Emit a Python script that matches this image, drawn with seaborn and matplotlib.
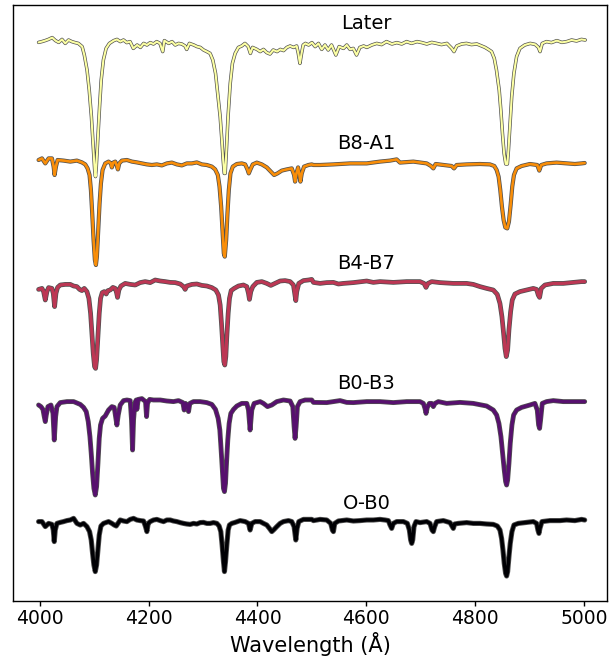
import numpy as np
import pandas as pd
import matplotlib
matplotlib.use("Agg")
import matplotlib.pyplot as plt
import seaborn as sns

# ---------------- data ----------------
labels = ["O-B0", "B0-B3", "B4-B7", "B8-A1", "Later"]
offsets = [0.0, 0.6, 1.2, 1.8, 2.4]

ob0_wl = [3998.0, 4004.2, 4010.3, 4016.4, 4022.5, 4025.0, 4026.8, 4028.6, 4031.7, 4037.8,
          4043.9, 4050.0, 4056.2, 4062.3, 4068.4, 4074.5, 4080.6, 4086.8, 4091.6, 4094.7,
          4097.2, 4099.6, 4102.1, 4104.5, 4107.0, 4109.4, 4112.5, 4117.3, 4126.5, 4132.6,
          4136.9, 4140.6, 4143.7, 4147.9, 4154.1, 4160.2, 4166.3, 4172.4, 4178.5, 4184.6,
          4190.8, 4194.4, 4196.9, 4199.3, 4203.0, 4209.1, 4215.2, 4221.4, 4227.5, 4233.6,
          4239.7, 4245.8, 4251.9, 4258.1, 4264.2, 4270.3, 4276.4, 4282.5, 4288.7, 4294.8,
          4300.9, 4307.0, 4313.1, 4319.2, 4325.4, 4329.6, 4332.7, 4335.1, 4337.6, 4339.4,
          4341.3, 4343.7, 4346.2, 4348.6, 4352.9, 4359.0, 4368.2, 4377.4, 4383.5, 4386.5,
          4389.6, 4395.7, 4404.9, 4411.0, 4417.1, 4422.0, 4426.3, 4430.6, 4435.5, 4441.6,
          4447.7, 4456.9, 4463.0, 4467.3, 4470.4, 4472.8, 4475.9, 4484.4, 4493.6, 4499.7,
          4502.8, 4515.0, 4527.2, 4534.6, 4537.6, 4539.5, 4541.9, 4548.7, 4564.0, 4576.2,
          4588.4, 4600.7, 4612.9, 4625.1, 4634.3, 4640.4, 4643.5, 4646.5, 4649.6, 4655.7,
          4668.0, 4675.3, 4679.0, 4681.4, 4683.3, 4685.1, 4687.5, 4691.2, 4698.5, 4710.8,
          4716.9, 4720.6, 4723.0, 4725.5, 4729.1, 4741.4, 4753.6, 4757.3, 4759.7, 4762.2,
          4768.9, 4784.2, 4796.4, 4808.7, 4820.9, 4833.1, 4840.5, 4845.4, 4848.4, 4850.9,
          4853.3, 4855.8, 4857.6, 4859.5, 4861.9, 4864.3, 4867.4, 4871.1, 4879.0, 4894.3,
          4906.6, 4912.7, 4915.1, 4917.0, 4918.8, 4922.5, 4937.1, 4955.5, 4967.7, 4983.0,
          4995.3, 5001.0]
ob0_flux = [0.992, 0.992, 0.967, 0.983, 0.978, 0.950, 0.892, 0.950, 0.983, 0.988,
            0.992, 0.997, 1.000, 1.008, 0.983, 0.975, 0.983, 0.967, 0.942, 0.900,
            0.833, 0.775, 0.742, 0.775, 0.850, 0.925, 0.970, 0.983, 0.992, 0.983,
            0.975, 0.970, 0.983, 1.000, 0.995, 0.992, 1.003, 1.008, 1.000, 0.997,
            0.995, 0.967, 0.942, 0.983, 0.992, 1.000, 1.003, 0.997, 0.992, 1.000,
            1.000, 0.995, 0.992, 0.987, 0.983, 0.980, 0.978, 0.983, 0.980, 0.987,
            0.988, 0.983, 0.983, 0.987, 0.983, 0.970, 0.942, 0.875, 0.792, 0.742,
            0.792, 0.875, 0.950, 0.975, 0.983, 0.988, 0.997, 0.992, 0.983, 0.950,
            0.983, 0.992, 0.992, 0.983, 0.975, 0.958, 0.942, 0.953, 0.967, 0.983,
            0.992, 0.997, 0.992, 0.967, 0.900, 0.958, 0.992, 1.003, 1.003, 1.003,
            0.997, 1.003, 1.000, 0.983, 0.950, 0.942, 0.983, 0.995, 1.000, 0.995,
            0.997, 1.000, 1.000, 1.003, 1.000, 0.997, 0.975, 0.958, 0.983, 0.992,
            0.992, 0.983, 0.950, 0.900, 0.883, 0.900, 0.967, 0.992, 0.987, 0.992,
            0.983, 0.950, 0.942, 0.967, 0.992, 0.997, 0.987, 0.970, 0.958, 0.980,
            0.983, 0.987, 0.983, 0.983, 0.980, 0.978, 0.970, 0.950, 0.908, 0.850,
            0.783, 0.733, 0.720, 0.742, 0.817, 0.883, 0.942, 0.975, 0.983, 0.988,
            0.992, 0.983, 0.950, 0.933, 0.958, 0.992, 0.997, 0.997, 1.000, 0.997,
            1.003, 1.000]

b03_wl = [3998.0, 4002.3, 4006.0, 4008.4, 4010.3, 4012.1, 4015.2, 4020.7, 4024.4, 4026.8,
          4029.3, 4031.7, 4037.8, 4050.0, 4062.3, 4074.5, 4080.6, 4085.5, 4089.2, 4092.3,
          4094.7, 4097.2, 4099.6, 4102.1, 4104.5, 4107.0, 4109.4, 4111.8, 4115.5, 4120.4,
          4126.5, 4132.6, 4136.9, 4139.4, 4141.8, 4144.3, 4147.9, 4154.1, 4160.2, 4166.3,
          4168.7, 4170.6, 4172.4, 4174.9, 4177.3, 4178.5, 4181.0, 4187.7, 4194.4, 4196.3,
          4198.1, 4201.8, 4209.1, 4221.4, 4233.6, 4245.8, 4255.0, 4263.0, 4265.4, 4267.9,
          4271.5, 4273.4, 4275.8, 4282.5, 4294.8, 4307.0, 4316.2, 4322.9, 4327.8, 4330.9,
          4333.3, 4335.8, 4337.6, 4339.4, 4341.3, 4343.1, 4345.5, 4348.0, 4351.1, 4356.0,
          4362.1, 4371.2, 4380.4, 4383.5, 4386.5, 4389.6, 4393.9, 4404.9, 4411.0, 4418.4,
          4426.3, 4435.5, 4447.7, 4460.0, 4464.9, 4467.3, 4469.1, 4471.0, 4473.4, 4478.3,
          4487.5, 4499.7, 4502.8, 4527.2, 4551.7, 4563.9, 4576.2, 4600.7, 4625.1, 4649.6,
          4674.1, 4698.5, 4704.7, 4707.7, 4709.6, 4712.0, 4715.7, 4720.0, 4723.0, 4726.1,
          4732.2, 4747.5, 4772.0, 4796.4, 4820.9, 4833.1, 4839.3, 4843.5, 4847.2, 4850.3,
          4853.3, 4855.8, 4857.6, 4859.5, 4861.9, 4864.3, 4867.4, 4870.5, 4876.0, 4885.1,
          4900.4, 4909.6, 4913.9, 4916.4, 4918.2, 4920.0, 4923.1, 4931.0, 4943.3, 4961.6,
          4980.0, 4995.3, 5001.0]
b03_flux = [0.975, 0.967, 0.953, 0.917, 0.892, 0.925, 0.967, 0.975, 0.933, 0.800,
            0.917, 0.967, 0.987, 0.992, 0.992, 0.978, 0.963, 0.942, 0.892, 0.817,
            0.733, 0.633, 0.558, 0.525, 0.567, 0.683, 0.808, 0.875, 0.908, 0.920,
            0.950, 0.967, 0.963, 0.917, 0.875, 0.925, 0.975, 0.997, 1.000, 0.997,
            0.900, 0.750, 0.900, 0.983, 1.000, 0.953, 1.003, 1.007, 0.992, 0.917,
            0.983, 1.003, 1.000, 1.000, 0.995, 0.992, 0.997, 0.987, 0.950, 0.983,
            0.970, 0.942, 0.983, 0.992, 0.992, 0.987, 0.978, 0.953, 0.908, 0.850,
            0.750, 0.633, 0.558, 0.542, 0.583, 0.683, 0.800, 0.883, 0.933, 0.953,
            0.970, 0.983, 0.983, 0.950, 0.850, 0.950, 0.983, 0.992, 0.983, 0.967,
            0.975, 0.992, 1.000, 0.995, 0.967, 0.867, 0.808, 0.867, 0.967, 0.992,
            1.000, 1.000, 0.988, 0.987, 0.997, 0.988, 0.987, 0.992, 0.992, 0.987,
            0.992, 0.992, 0.983, 0.958, 0.933, 0.963, 0.983, 0.983, 0.967, 0.983,
            0.992, 0.983, 0.988, 0.983, 0.970, 0.950, 0.925, 0.883, 0.817, 0.733,
            0.650, 0.592, 0.575, 0.600, 0.683, 0.783, 0.875, 0.925, 0.950, 0.963,
            0.975, 0.983, 0.950, 0.875, 0.858, 0.900, 0.983, 0.992, 0.997, 0.992,
            0.992, 0.992, 0.992]

b47_wl = [3998.0, 4004.2, 4007.2, 4010.3, 4013.3, 4016.4, 4022.5, 4025.0, 4027.4, 4029.9,
          4032.9, 4037.8, 4047.0, 4056.2, 4062.3, 4068.4, 4073.3, 4077.6, 4081.9, 4086.8,
          4090.4, 4093.5, 4096.0, 4098.4, 4100.8, 4102.7, 4104.5, 4107.0, 4109.4, 4111.8,
          4114.9, 4118.6, 4122.2, 4125.3, 4129.6, 4134.5, 4138.8, 4141.2, 4143.0, 4145.5,
          4149.2, 4157.1, 4166.3, 4175.5, 4184.6, 4193.8, 4203.0, 4212.2, 4221.4, 4230.5,
          4239.7, 4248.9, 4258.1, 4264.2, 4267.2, 4270.3, 4279.5, 4288.7, 4297.8, 4307.0,
          4316.2, 4323.5, 4328.4, 4331.5, 4333.9, 4336.4, 4338.2, 4340.0, 4341.9, 4343.7,
          4346.2, 4348.6, 4351.7, 4357.2, 4365.1, 4374.3, 4380.4, 4383.5, 4385.3, 4387.8,
          4391.4, 4398.8, 4408.0, 4417.1, 4424.5, 4432.4, 4441.6, 4450.8, 4460.0, 4466.1,
          4468.5, 4470.4, 4472.2, 4475.9, 4484.4, 4493.6, 4499.7, 4502.8, 4515.0, 4527.2,
          4539.5, 4548.7, 4557.8, 4576.2, 4600.7, 4612.9, 4625.1, 4649.6, 4674.1, 4698.5,
          4705.9, 4709.6, 4713.2, 4720.0, 4735.3, 4759.7, 4784.2, 4796.4, 4808.7, 4820.9,
          4833.1, 4840.5, 4845.4, 4849.0, 4852.1, 4854.6, 4857.0, 4859.5, 4861.9, 4865.0,
          4868.0, 4872.9, 4882.1, 4894.4, 4906.6, 4912.7, 4915.7, 4918.2, 4921.2, 4928.0,
          4943.3, 4961.6, 4980.0, 4995.3, 5001.0]
b47_flux = [0.953, 0.958, 0.942, 0.900, 0.942, 0.962, 0.958, 0.933, 0.867, 0.933,
            0.963, 0.975, 0.978, 0.978, 0.970, 0.967, 0.953, 0.947, 0.958, 0.942,
            0.908, 0.833, 0.733, 0.633, 0.567, 0.558, 0.600, 0.717, 0.833, 0.908,
            0.937, 0.942, 0.930, 0.947, 0.950, 0.963, 0.958, 0.937, 0.913, 0.950,
            0.970, 0.983, 0.978, 0.975, 0.987, 0.992, 0.987, 1.000, 0.995, 0.992,
            0.988, 0.987, 0.980, 0.967, 0.953, 0.970, 0.978, 0.980, 0.973, 0.970,
            0.962, 0.950, 0.925, 0.875, 0.783, 0.667, 0.592, 0.575, 0.617, 0.717,
            0.833, 0.908, 0.947, 0.958, 0.970, 0.975, 0.967, 0.933, 0.903, 0.942,
            0.967, 0.988, 0.992, 0.983, 0.973, 0.983, 0.995, 0.997, 0.992, 0.975,
            0.933, 0.897, 0.942, 0.983, 0.997, 1.000, 1.003, 0.988, 0.983, 0.987,
            0.988, 0.980, 0.983, 0.987, 0.995, 0.988, 0.992, 0.988, 0.992, 0.992,
            0.983, 0.963, 0.983, 0.992, 0.987, 0.983, 0.983, 0.978, 0.967, 0.958,
            0.950, 0.928, 0.883, 0.817, 0.733, 0.658, 0.617, 0.650, 0.750, 0.842,
            0.900, 0.930, 0.942, 0.950, 0.958, 0.953, 0.925, 0.913, 0.958, 0.975,
            0.983, 0.983, 0.988, 0.992, 0.992]

b8a1_wl = [3998.0, 4004.2, 4010.3, 4016.4, 4022.5, 4025.6, 4027.4, 4029.9, 4032.9, 4043.9,
           4056.2, 4068.4, 4077.6, 4083.7, 4088.0, 4091.6, 4094.1, 4096.5, 4099.0, 4101.4,
           4103.3, 4105.1, 4107.6, 4110.0, 4112.5, 4115.5, 4120.4, 4126.5, 4130.8, 4132.6,
           4135.1, 4138.8, 4141.8, 4143.7, 4146.1, 4151.0, 4160.2, 4169.4, 4178.5, 4187.7,
           4196.9, 4206.1, 4215.2, 4224.4, 4233.6, 4242.8, 4251.9, 4261.1, 4270.3, 4279.5,
           4288.7, 4297.8, 4307.0, 4316.2, 4322.3, 4327.2, 4330.3, 4333.3, 4335.8, 4338.2,
           4340.0, 4342.5, 4344.9, 4347.4, 4350.4, 4354.7, 4362.1, 4371.2, 4377.4, 4381.6,
           4384.1, 4387.1, 4391.4, 4398.8, 4408.0, 4417.1, 4424.5, 4430.6, 4436.7, 4444.7,
           4453.8, 4463.0, 4467.3, 4469.1, 4471.6, 4474.6, 4477.1, 4478.9, 4481.4, 4485.6,
           4493.6, 4499.7, 4502.8, 4515.0, 4539.5, 4570.1, 4600.7, 4625.1, 4643.5, 4655.7,
           4661.8, 4686.3, 4710.8, 4718.7, 4723.0, 4727.3, 4741.4, 4756.7, 4761.0, 4765.8,
           4784.2, 4808.7, 4827.0, 4835.0, 4839.3, 4842.9, 4846.0, 4849.0, 4852.1, 4855.2,
           4858.8, 4861.9, 4865.0, 4868.0, 4871.1, 4876.0, 4885.1, 4900.4, 4913.9, 4917.6,
           4921.2, 4931.0, 4949.4, 4967.7, 4983.0, 4995.3, 5001.0]
b8a1_flux = [1.000, 1.008, 0.983, 1.008, 1.008, 0.967, 0.925, 0.967, 1.000, 0.997,
             0.992, 0.997, 0.988, 0.978, 0.958, 0.925, 0.850, 0.733, 0.600, 0.500,
             0.475, 0.517, 0.650, 0.783, 0.883, 0.950, 0.983, 0.992, 0.983, 0.963,
             0.987, 0.992, 0.970, 0.953, 0.983, 0.997, 1.000, 0.992, 0.988, 0.983,
             0.978, 0.975, 0.978, 0.973, 0.983, 0.987, 0.978, 0.973, 0.983, 0.983,
             0.988, 0.978, 0.975, 0.967, 0.953, 0.925, 0.867, 0.767, 0.650, 0.533,
             0.517, 0.600, 0.733, 0.850, 0.933, 0.967, 0.980, 0.983, 0.978, 0.953,
             0.933, 0.953, 0.978, 0.987, 0.978, 0.963, 0.942, 0.925, 0.933, 0.947,
             0.953, 0.958, 0.925, 0.892, 0.933, 0.963, 0.925, 0.892, 0.933, 0.967,
             0.975, 0.978, 0.975, 0.975, 0.978, 0.983, 0.983, 0.992, 0.997, 1.003,
             0.987, 0.992, 0.983, 0.970, 0.958, 0.980, 0.975, 0.970, 0.958, 0.975,
             0.978, 0.980, 0.978, 0.970, 0.950, 0.917, 0.850, 0.767, 0.700, 0.663,
             0.658, 0.692, 0.775, 0.867, 0.925, 0.958, 0.970, 0.980, 0.975, 0.947,
             0.975, 0.983, 0.987, 0.983, 0.980, 0.983, 0.985]

later_wl = [3998, 4004, 4010, 4016, 4023, 4029, 4035, 4041, 4047, 4053,
            4059, 4065, 4071, 4078, 4082, 4087, 4091, 4095, 4098, 4101,
            4102.5, 4104, 4107, 4110, 4113, 4117, 4122, 4128, 4136, 4142,
            4148, 4154, 4160, 4166, 4172, 4179, 4185, 4191, 4197, 4203,
            4209, 4215, 4221, 4226, 4229, 4237, 4243, 4249, 4255, 4261,
            4267, 4270, 4275, 4283, 4289, 4295, 4301, 4307, 4313, 4318,
            4323, 4327, 4331.5, 4334.6, 4337, 4339, 4340.7, 4343, 4346, 4350,
            4354, 4359, 4365, 4371, 4377, 4383, 4387, 4391, 4399, 4405,
            4411, 4417, 4423, 4429, 4436, 4442, 4448, 4454, 4460, 4466,
            4472, 4475, 4478, 4481, 4484, 4488, 4494, 4500, 4506, 4512,
            4518, 4524, 4530, 4536, 4544, 4550, 4558, 4564, 4570, 4576,
            4582, 4588, 4595, 4601, 4610, 4619, 4628, 4637, 4647, 4656,
            4665, 4674, 4683, 4693, 4702, 4711, 4720, 4729, 4738, 4748,
            4757, 4761, 4766, 4775, 4784, 4793, 4803, 4812, 4818, 4824,
            4830, 4835, 4839, 4844, 4847, 4850, 4853, 4856, 4859, 4861,
            4864, 4867, 4871, 4876, 4882, 4891, 4901, 4910, 4916, 4919,
            4923, 4931, 4940, 4950, 4959, 4968, 4977, 4986, 4995, 5002]
later_flux = [0.988, 0.992, 0.997, 1.003, 1.012, 0.997, 0.988, 1.003, 0.983, 1.000,
              0.992, 0.987, 0.983, 0.967, 0.925, 0.850, 0.750, 0.617, 0.483, 0.350,
              0.317, 0.367, 0.517, 0.667, 0.800, 0.900, 0.958, 0.983, 0.997, 1.003,
              0.992, 1.000, 0.987, 0.992, 0.958, 0.975, 0.963, 0.983, 0.975, 0.987,
              0.980, 0.992, 0.983, 0.942, 0.997, 0.983, 0.992, 0.975, 0.983, 0.980,
              0.970, 0.953, 0.983, 0.975, 0.967, 0.963, 0.950, 0.942, 0.933, 0.900,
              0.833, 0.733, 0.617, 0.500, 0.400, 0.333, 0.333, 0.450, 0.617, 0.783,
              0.883, 0.933, 0.963, 0.970, 0.983, 0.967, 0.933, 0.963, 0.953, 0.942,
              0.953, 0.937, 0.930, 0.950, 0.942, 0.953, 0.947, 0.963, 0.970, 0.963,
              0.970, 0.933, 0.883, 0.933, 0.975, 0.983, 0.975, 0.987, 0.967, 0.983,
              0.953, 0.975, 0.950, 0.975, 0.925, 0.967, 0.958, 0.975, 0.953, 0.958,
              0.925, 0.963, 0.970, 0.963, 0.975, 0.983, 0.977, 0.992, 0.980, 0.987,
              0.980, 0.992, 0.983, 0.992, 0.987, 0.980, 0.988, 0.983, 0.977, 0.983,
              0.958, 0.942, 0.970, 0.980, 0.983, 0.977, 0.980, 0.970, 0.963, 0.953,
              0.942, 0.908, 0.850, 0.750, 0.650, 0.533, 0.433, 0.380, 0.380, 0.450,
              0.583, 0.717, 0.833, 0.917, 0.958, 0.975, 0.983, 0.978, 0.963, 0.942,
              0.983, 0.992, 0.987, 0.997, 0.988, 0.992, 1.000, 0.995, 1.003, 1.000]

wavelengths = [ob0_wl, b03_wl, b47_wl, b8a1_wl, later_wl]
fluxes = [ob0_flux, b03_flux, b47_flux, b8a1_flux, later_flux]

frames = []
for lab, off, wl, fl in zip(labels, offsets, wavelengths, fluxes):
    frames.append(pd.DataFrame({"wavelength": wl,
                                "flux": np.asarray(fl) + off,
                                "type": lab}))
df = pd.concat(frames, ignore_index=True)

# ---------------- style ----------------
sns.set_theme(style="ticks")
plt.rcParams.update({
    "font.family": ["DejaVu Sans"],
    "axes.edgecolor": "black",
    "axes.linewidth": 1.0,
    "xtick.color": "black",
    "xtick.labelcolor": "black",
    "axes.labelcolor": "black",
    "text.color": "black",
})

colors = plt.cm.inferno(np.linspace(0, 1, 5))
core_lw = [2.5, 2.4, 2.3, 1.9, 1.5]
edge_lw = [3.7, 3.5, 3.4, 3.0, 2.5]

fig = plt.figure(figsize=(6.15, 6.57), dpi=100)
ax = fig.add_axes([13 / 615, 1 - 601 / 657, (607 - 13) / 615, (601 - 5) / 657])

for i, lab in enumerate(labels):
    sub = df[df["type"] == lab]
    sns.lineplot(data=sub, x="wavelength", y="flux", ax=ax, sort=False,
                 estimator=None, color="#505050", lw=edge_lw[i], zorder=2 * i + 1)
    sns.lineplot(data=sub, x="wavelength", y="flux", ax=ax, sort=False,
                 estimator=None, color=colors[i], lw=core_lw[i], zorder=2 * i + 2)
    ax.text(4600, offsets[i] + 1.055, lab, ha="center", va="baseline",
            fontsize=14, color="black")

ax.set_xlim(3951, 5042)
ax.set_ylim(0.595, 3.575)
ax.set_xticks([4000, 4200, 4400, 4600, 4800, 5000])
ax.set_yticks([])
ax.set_ylabel("")
ax.set_xlabel("Wavelength (Å)", fontsize=15, labelpad=3)
ax.tick_params(axis="x", labelsize=13.5, length=3.5, width=1.0, pad=2.5,
               direction="out")
for s in ax.spines.values():
    s.set_visible(True)
    s.set_color("black")

fig.savefig("out.png", dpi=100)
